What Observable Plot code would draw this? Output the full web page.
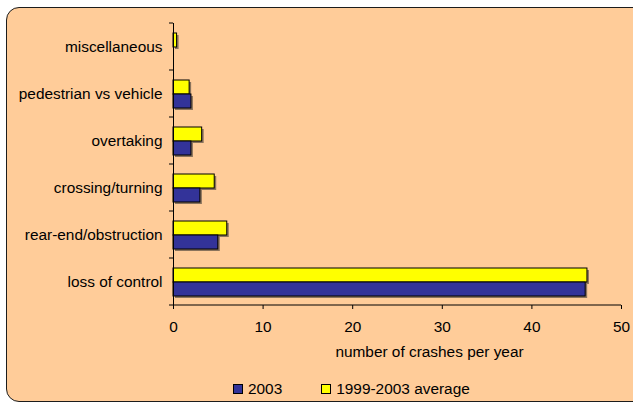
<!DOCTYPE html>
<html>
<head>
<meta charset="utf-8">
<script src="https://cdn.jsdelivr.net/npm/d3@7"></script>
<script src="https://cdn.jsdelivr.net/npm/@observablehq/plot@0.6"></script>
<style>
  html, body { margin: 0; padding: 0; background: #fff; overflow: hidden; }
  #wrap { position: relative; width: 633px; height: 403px; overflow: hidden;
          font-family: "Liberation Sans", Arial, sans-serif; color: #000; }
  #panel { position: absolute; left: 6px; top: 7px; width: 640px; height: 393px;
           border: 1.5px solid #1c1c1c; border-radius: 13px; background: #FFCC99; }
  #chart { position: relative; }
  .legend { display: flex; align-items: center; height: 24px; margin-top: 7px;
            padding-left: 233px; font-size: 15.4px; }
  .legend .item { display: flex; align-items: center; margin-right: 39px; }
  .legend .sw { display: inline-block; width: 8px; height: 8px; border: 1px solid #000; margin-right: 5px; }
</style>
</head>
<body>
<div id="wrap">
  <div id="panel"></div>
  <div id="chart"></div>
</div>
<script>
// Crash types, listed top to bottom
const categories = [
  "miscellaneous",
  "pedestrian vs vehicle",
  "overtaking",
  "crossing/turning",
  "rear-end/obstruction",
  "loss of control"
];
const series = ["2003", "1999-2003 average"];
const crashes2003 = [0, 2.0, 2.0, 3.0, 5.0, 46.0];
const crashesAverage = [0.4, 1.8, 3.2, 4.6, 6.0, 46.2];
const xTicks = [0, 10, 20, 30, 40, 50];
const seriesColors = ["#333399", "#FFFF00"];

// One row per category and series; the average bar sits above the 2003 bar
const rows = categories.flatMap((category, i) => [
  {category, series: series[1], value: crashesAverage[i]},
  {category, series: series[0], value: crashes2003[i]}
]);

const chart = Plot.plot({
  width: 633,
  height: 370,
  marginLeft: 173,
  marginRight: 12,
  marginTop: 22,
  marginBottom: 65,
  style: {background: "transparent", fontFamily: "'Liberation Sans', Arial, sans-serif", fontSize: "15.4px", color: "#000", overflow: "visible"},
  x: {domain: [0, 50], ticks: xTicks, tickSize: 4, tickPadding: 12, label: null},
  y: {domain: [series[1], series[0]], paddingInner: 0, paddingOuter: 0.66, axis: null},
  fy: {domain: categories, padding: 0, tickSize: 0, tickPadding: 11, label: null},
  color: {domain: series, range: seriesColors},
  marks: [
    // drop shadow under each bar
    Plot.barX(rows, {filter: d => d.value > 0, fy: "category", y: "series", x: "value",
                     fill: "#2a2a2a", fillOpacity: 0.55, dx: 2, dy: 2}),
    Plot.barX(rows, {filter: d => d.value > 0, fy: "category", y: "series", x: "value",
                     fill: "series", stroke: "#000", strokeWidth: 1}),
    Plot.ruleX([0], {stroke: "#000"}),
    Plot.text(["number of crashes per year"], {frameAnchor: "bottom", facet: "super",
                     dx: 32, dy: 51, fill: "#000"})
  ]
});

// Category-axis tick marks sit between the categories, as does the value-axis line
const svg = d3.select(chart);
const fy = chart.scale("fy");
const x = chart.scale("x");
const x0 = x.apply(0);
const edges = fy.domain.map(d => fy.apply(d)).concat(fy.apply(fy.domain[fy.domain.length - 1]) + fy.bandwidth);
const axisG = svg.append("g").attr("stroke", "#000").attr("stroke-width", 1);
axisG.selectAll("line.edge").data(edges).join("line")
  .attr("class", "edge")
  .attr("x1", x0 - 4).attr("x2", x0)
  .attr("y1", d => d).attr("y2", d => d);
axisG.append("line")
  .attr("x1", x0).attr("x2", x.apply(50))
  .attr("y1", edges[edges.length - 1]).attr("y2", edges[edges.length - 1]);

const holder = document.getElementById("chart");
holder.appendChild(chart);

// Legend below the plot
const legend = d3.select(holder).append("div").attr("class", "legend");
series.forEach((s, i) => {
  const item = legend.append("span").attr("class", "item");
  item.append("span").attr("class", "sw").style("background", seriesColors[i]);
  item.append("span").text(s);
});
</script>
</body>
</html>
